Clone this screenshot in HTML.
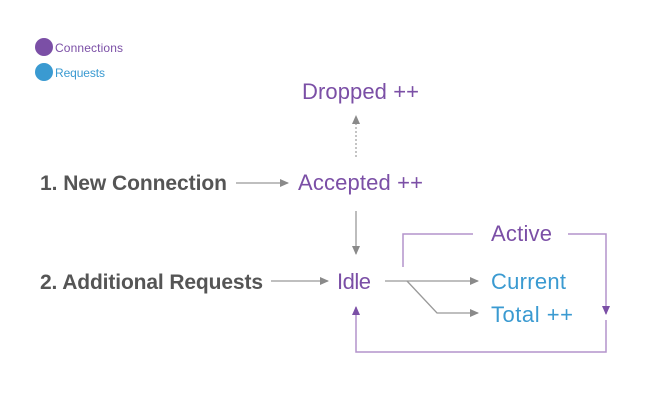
<!DOCTYPE html>
<html><head><style>
html,body{margin:0;padding:0;background:#fff;}
svg{display:block;}
text{font-family:"Liberation Sans","DejaVu Sans",sans-serif;}
</style></head><body>
<svg width="660" height="400" viewBox="0 0 660 400" xmlns="http://www.w3.org/2000/svg">
<defs>
<marker id="g" markerWidth="9" markerHeight="10" refX="8" refY="5" orient="auto" markerUnits="userSpaceOnUse"><path d="M0,1 L9,5 L0,9 z" fill="#8a8a8a"/></marker>
<marker id="p" markerWidth="9" markerHeight="10" refX="8" refY="5" orient="auto" markerUnits="userSpaceOnUse"><path d="M0,1 L9,5 L0,9 z" fill="#7b4fa6"/></marker>
</defs>
<circle cx="44" cy="47" r="9" fill="#7b4fa6"/>
<text x="55" y="52" font-size="12" fill="#7b4fa6" textLength="68">Connections</text>
<circle cx="44" cy="72" r="9" fill="#3a9ad1"/>
<text x="55" y="77" font-size="12" fill="#3a9ad1" textLength="50">Requests</text>

<text x="302" y="99" font-size="22" fill="#7b4fa6" textLength="117">Dropped ++</text>
<line x1="356" y1="157" x2="356" y2="116" stroke="#8a8a8a" stroke-width="1" stroke-dasharray="2,2" marker-end="url(#g)"/>

<text x="40" y="190" font-size="21" font-weight="bold" fill="#555" textLength="187">1. New Connection</text>
<line x1="236" y1="183" x2="288" y2="183" stroke="#999" stroke-width="1.3" marker-end="url(#g)"/>
<text x="298" y="190" font-size="22" fill="#7b4fa6" textLength="125">Accepted ++</text>
<line x1="356" y1="211" x2="356" y2="254" stroke="#999" stroke-width="1.3" marker-end="url(#g)"/>

<text x="40" y="289" font-size="21" font-weight="bold" fill="#555" textLength="223">2. Additional Requests</text>
<line x1="271" y1="281" x2="328" y2="281" stroke="#999" stroke-width="1.3" marker-end="url(#g)"/>
<text x="337" y="289" font-size="22" fill="#7b4fa6" textLength="34">Idle</text>

<line x1="385" y1="281" x2="478" y2="281" stroke="#999" stroke-width="1.3" marker-end="url(#g)"/>
<polyline points="407,281 437,313 478,313" fill="none" stroke="#999" stroke-width="1.3" marker-end="url(#g)"/>
<text x="491" y="289" font-size="22" fill="#3a9ad1" textLength="75">Current</text>
<text x="491" y="322" font-size="22" fill="#3a9ad1" textLength="82">Total ++</text>
<text x="491" y="241" font-size="22" fill="#7b4fa6" textLength="61">Active</text>

<polyline points="403,267 403,234 473,234" fill="none" stroke="#b394cc" stroke-width="1.5"/>
<polyline points="568,234 606,234 606,314" fill="none" stroke="#b394cc" stroke-width="1.5" marker-end="url(#p)"/>
<polyline points="606,320 606,352 356,352 356,307" fill="none" stroke="#b394cc" stroke-width="1.5" marker-end="url(#p)"/>
</svg>
</body></html>
